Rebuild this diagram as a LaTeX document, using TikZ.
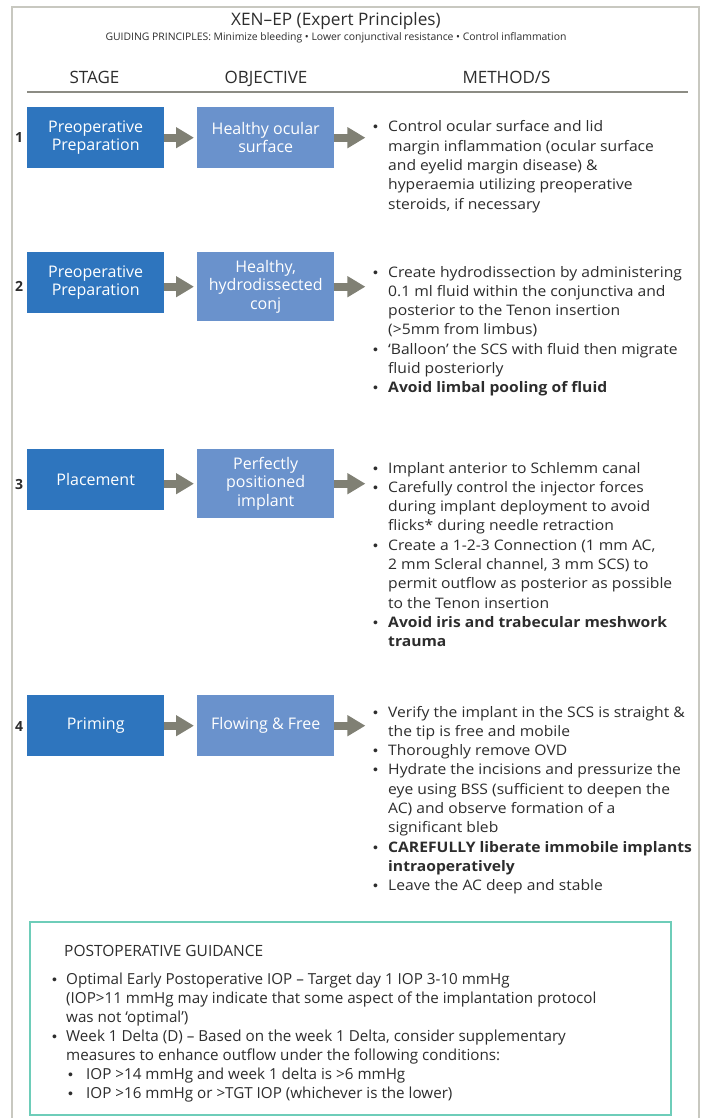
\documentclass[tikz,border=0pt]{standalone}
\usepackage{fontspec}
\setmainfont{Open Sans}
\newfontfamily\widefont[FakeStretch=1.08]{Open Sans}
\newfontfamily\bulfont{Liberation Sans}
\usepackage{array}
\usetikzlibrary{arrows.meta,calc}
\definecolor{stageblue}{RGB}{46,117,190}
\definecolor{objblue}{RGB}{106,146,204}
\definecolor{arrowgrey}{RGB}{128,128,116}
\definecolor{txt}{RGB}{45,45,45}
\definecolor{framegrey}{RGB}{200,200,192}
\definecolor{rulegrey}{RGB}{140,140,132}
\definecolor{postteal}{RGB}{110,205,185}
\newcommand{\bul}{\hspace*{2pt}{\bulfont\fontsize{14}{14}\selectfont •}}
\begin{document}
\begin{tikzpicture}[x=1pt,y=-1pt,
  stagebox/.style={fill=stageblue, text=white, minimum width=137pt, minimum height=61pt,
    inner sep=0pt, align=center, anchor=north west, font=\fontsize{16}{18.5}\selectfont},
  objbox/.style={stagebox, fill=objblue},
  numlbl/.style={text=txt, font=\bfseries\fontsize{14}{16}\selectfont, inner sep=0pt},
  methlist/.style={text=txt, inner sep=0pt, anchor=base west, align=left,
    font=\widefont\fontsize{14.5}{19.3}\selectfont},
  blockarr/.style={arrowgrey, line width=8pt, -{Triangle[length=18pt,width=20pt]}},
  hdr/.style={text=txt, inner sep=0pt, anchor=base, font=\fontsize{17}{19}\selectfont}
]
\useasboundingbox (0,0) rectangle (709,1118);
\fill[white] (0,0) rectangle (709,1118);
% frame
\draw[framegrey, line width=1.5pt] (12,1118) -- (12,7) -- (699,7) -- (699,1118);
% titles
\node[text=txt, inner sep=0pt, anchor=base, font=\fontsize{17.2}{20}\selectfont] (title) at (336,26) {XEN–EP (Expert Principles)};
\node[text=txt, inner sep=0pt, anchor=base, font=\fontsize{10.4}{12}\selectfont] (sub) at (336,41) {GUIDING PRINCIPLES: Minimize bleeding • Lower conjunctival resistance • Control inflammation};
\node[hdr] (hstage) at (94.5,84) {STAGE};
\node[hdr] (hobj) at (266,84) {OBJECTIVE};
\node[hdr] (hmeth) at (506.5,84) {METHOD/S};
\draw[rulegrey, line width=2pt] (27,92) -- (688,92);

% row 1
\node[stagebox] (s1) at (27,107) {Preoperative\\Preparation};
\node[objbox] (o1) at (197,107) {Healthy ocular\\surface};
\node[numlbl] (n1) at (19,138) {1};
\coordinate (t1) at ($(o1.east)+(31,0)$);
\draw[blockarr] (s1.east |- o1.center) -- ($(o1.west)+(-3,0)$);
\draw[blockarr] (o1.east) -- (t1);
\node[methlist] (m1) at (371,132) {\begin{tabular}[t]{@{}p{17pt}@{}l@{}}
\bul & Control ocular surface and lid\\
 & margin inflammation (ocular surface\\
 & and eyelid margin disease) \&\\
 & hyperaemia utilizing preoperative\\
 & steroids, if necessary
\end{tabular}};

% row 2
\node[stagebox] (s2) at (27,252) {Preoperative\\Preparation};
\node[objbox, minimum height=69pt] (o2) at (197,252) {Healthy,\\hydrodissected\\conj};
\node[numlbl] (n2) at (19,286) {2};
\coordinate (t2) at ($(o2.east)+(31,0)$);
\draw[blockarr] (s2.east |- o2.center) -- ($(o2.west)+(-3,0)$);
\draw[blockarr] (o2.east) -- (t2);
\node[methlist] (m2) at (371,277) {\begin{tabular}[t]{@{}p{17pt}@{}l@{}}
\bul & Create hydrodissection by administering\\
 & 0.1 ml fluid within the conjunctiva and\\
 & posterior to the Tenon insertion\\
 & (>5mm from limbus)\\
\bul & ‘Balloon’ the SCS with fluid then migrate\\
 & fluid posteriorly\\
\bul & \bfseries Avoid limbal pooling of fluid
\end{tabular}};

% row 3
\node[stagebox] (s3) at (27,449) {Placement};
\node[objbox, minimum height=69pt] (o3) at (197,449) {Perfectly\\positioned\\implant};
\node[numlbl] (n3) at (19,484) {3};
\coordinate (t3) at ($(o3.east)+(31,0)$);
\draw[blockarr] (s3.east |- o3.center) -- ($(o3.west)+(-3,0)$);
\draw[blockarr] (o3.east) -- (t3);
\node[methlist] (m3) at (371,473) {\begin{tabular}[t]{@{}p{17pt}@{}l@{}}
\bul & Implant anterior to Schlemm canal\\
\bul & Carefully control the injector forces\\
 & during implant deployment to avoid\\
 & flicks* during needle retraction\\
\bul & Create a 1-2-3 Connection (1 mm AC,\\
 & 2 mm Scleral channel, 3 mm SCS) to\\
 & permit outflow as posterior as possible\\
 & to the Tenon insertion\\
\bul & \bfseries Avoid iris and trabecular meshwork\\
 & \bfseries trauma
\end{tabular}};

% row 4
\node[stagebox] (s4) at (27,695) {Priming};
\node[objbox] (o4) at (197,695) {Flowing \& Free};
\node[numlbl] (n4) at (19,726) {4};
\coordinate (t4) at ($(o4.east)+(31,0)$);
\draw[blockarr] (s4.east |- o4.center) -- ($(o4.west)+(-3,0)$);
\draw[blockarr] (o4.east) -- (t4);
\node[methlist] (m4) at (371,717) {\begin{tabular}[t]{@{}p{17pt}@{}l@{}}
\bul & Verify the implant in the SCS is straight \&\\
 & the tip is free and mobile\\
\bul & Thoroughly remove OVD\\
\bul & Hydrate the incisions and pressurize the\\
 & eye using BSS (sufficient to deepen the\\
 & AC) and observe formation of a\\
 & significant bleb\\
\bul & \bfseries CAREFULLY liberate immobile implants\\
 & \bfseries intraoperatively\\
\bul & Leave the AC deep and stable
\end{tabular}};

% postoperative
\draw[postteal, line width=2.6pt] (30,922) rectangle (671,1115);
\node[text=txt, inner sep=0pt, anchor=base west, font=\fontsize{15.5}{18}\selectfont] (ph) at (64,956) {POSTOPERATIVE GUIDANCE};
\node[methlist, font=\fontsize{15.2}{19}\selectfont] (pl) at (50,984) {\begin{tabular}[t]{@{}p{16pt}@{}p{20pt}@{}l@{}}
\bul & \multicolumn{2}{@{}l@{}}{Optimal Early Postoperative IOP – Target day 1 IOP 3-10 mmHg}\\
 & \multicolumn{2}{@{}l@{}}{(IOP>11 mmHg may indicate that some aspect of the implantation protocol}\\
 & \multicolumn{2}{@{}l@{}}{was not ‘optimal’)}\\
\bul & \multicolumn{2}{@{}l@{}}{Week 1 Delta (D) – Based on the week 1 Delta, consider supplementary}\\
 & \multicolumn{2}{@{}l@{}}{measures to enhance outflow under the following conditions:}\\
 & \bul & IOP >14 mmHg and week 1 delta is >6 mmHg\\
 & \bul & IOP >16 mmHg or >TGT IOP (whichever is the lower)
\end{tabular}};
\end{tikzpicture}
\end{document}
